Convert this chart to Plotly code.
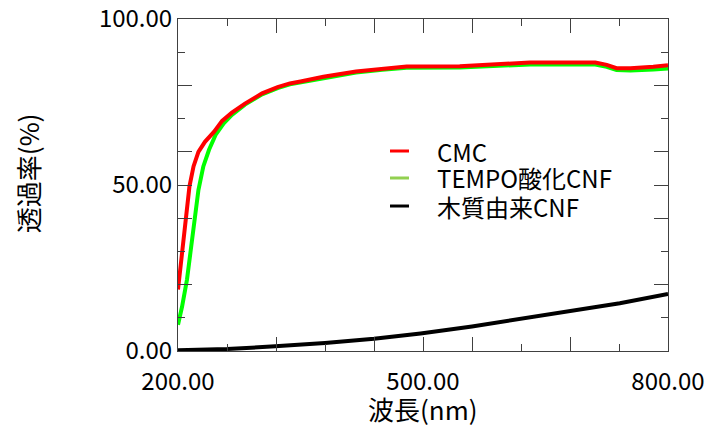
import plotly.graph_objects as go

# ---- data ----
cmc_nm = [200, 205, 209, 214, 219, 225, 233, 244, 254, 266, 282, 303, 322, 337, 350,
          378, 418, 450, 480, 545, 578, 600, 631, 711, 725, 737, 754, 782, 800]
cmc_t = [18.5, 29.5, 41.0, 49.5, 55.6, 60.0, 63.0, 66.0, 69.3, 71.8, 74.5, 77.6, 79.5, 80.6, 81.2,
         82.6, 84.2, 85.0, 85.7, 85.8, 86.3, 86.5, 86.9, 86.9, 86.2, 85.2, 85.2, 85.6, 86.1]

tempo_nm = [200, 205, 211, 216, 220, 225, 231, 238, 246, 256, 266, 282, 303, 322, 337, 350,
            378, 418, 450, 480, 545, 578, 600, 631, 711, 725, 737, 754, 782, 800]
tempo_t = [7.9, 13.4, 21.5, 31.5, 39.5, 48.5, 55.6, 60.6, 65.1, 68.6, 71.1, 74.2, 77.3, 79.2, 80.3, 80.9,
           82.3, 83.9, 84.7, 85.3, 85.4, 85.8, 86.0, 86.3, 86.3, 85.6, 84.6, 84.5, 84.8, 85.1]

wood_nm = [200, 260, 319, 380, 440, 497, 560, 619, 680, 741, 800]
wood_t = [0.2, 0.6, 1.4, 2.4, 3.7, 5.3, 7.4, 9.6, 12.0, 14.4, 17.2]

series_names = ["CMC", "TEMPO酸化CNF", "木質由来CNF"]
legend_colors = ["#ff0000", "#92d050", "#000000"]

x_major = [200, 320, 440, 500, 560, 680, 800]
x_major_text = ["200.00", "", "", "500.00", "", "", "800.00"]
x_minor = [260, 380, 620, 740]
y_major = [0, 20, 40, 50, 60, 80, 100]
y_major_text = ["0.00", "", "", "50.00", "", "", "100.00"]
y_minor = [10, 30, 70, 90]

FONT = "Noto Sans CJK JP"
AX = "#404040"

fig = go.Figure()
# curves
fig.add_trace(go.Scatter(x=tempo_nm, y=tempo_t, mode="lines", name=series_names[1],
                         showlegend=False, line=dict(color="#00ff00", width=4)))
fig.add_trace(go.Scatter(x=cmc_nm, y=cmc_t, mode="lines", name=series_names[0],
                         showlegend=False, line=dict(color="#ff0000", width=4)))
fig.add_trace(go.Scatter(x=wood_nm, y=wood_t, mode="lines", name=series_names[2],
                         showlegend=False, line=dict(color="#000000", width=4)))

axis_common = dict(showline=True, linecolor=AX, linewidth=1, mirror="ticks",
                   ticks="inside", tickcolor=AX, tickwidth=1, ticklen=14,
                   showgrid=False, zeroline=False, ticklabeloverflow="allow",
                   automargin=False,
                   tickfont=dict(family=FONT, size=24, color="#000"))

# hand-built legend (short sample lines, tight rows as in the reference)
legend_rows_y = [0.6024, 0.5211, 0.4367]
shapes = []
annotations = []
for name, col, yy in zip(series_names, legend_colors, legend_rows_y):
    shapes.append(dict(type="line", xref="paper", yref="paper", x0=0.4327, x1=0.4714,
                       y0=yy, y1=yy, line=dict(color=col, width=3)))
    annotations.append(dict(text=name, xref="paper", yref="paper", x=0.5245, y=yy,
                            xanchor="left", yanchor="middle", showarrow=False,
                            font=dict(family=FONT, size=24, color="#000")))

annotations += [
    dict(text="波長(nm)", xref="paper", yref="paper", x=0.5, y=-0.172,
         xanchor="center", yanchor="middle", showarrow=False,
         font=dict(family=FONT, size=26, color="#000")),
    dict(text="透過率(%)", xref="paper", yref="paper", x=-0.308, y=0.536,
         xanchor="center", yanchor="middle", showarrow=False, textangle=-90,
         font=dict(family=FONT, size=26, color="#000")),
]

fig.update_layout(
    width=714, height=417,
    margin=dict(l=170, r=54, t=11, b=74, autoexpand=False),
    paper_bgcolor="white", plot_bgcolor="white",
    showlegend=False,
    xaxis=dict(range=[200, 800], tickmode="array", tickvals=x_major, ticktext=x_major_text,
               minor=dict(tickmode="array", tickvals=x_minor, ticks="inside", ticklen=7,
                          tickcolor=AX, tickwidth=1, showgrid=False),
               ticklabelstandoff=9,
               **axis_common),
    yaxis=dict(range=[0, 100], tickmode="array", tickvals=y_major, ticktext=y_major_text,
               minor=dict(tickmode="array", tickvals=y_minor, ticks="inside", ticklen=7,
                          tickcolor=AX, tickwidth=1, showgrid=False),
               ticklabelstandoff=0,
               **axis_common),
    shapes=shapes,
    annotations=annotations,
)

fig.write_html("out.html")
